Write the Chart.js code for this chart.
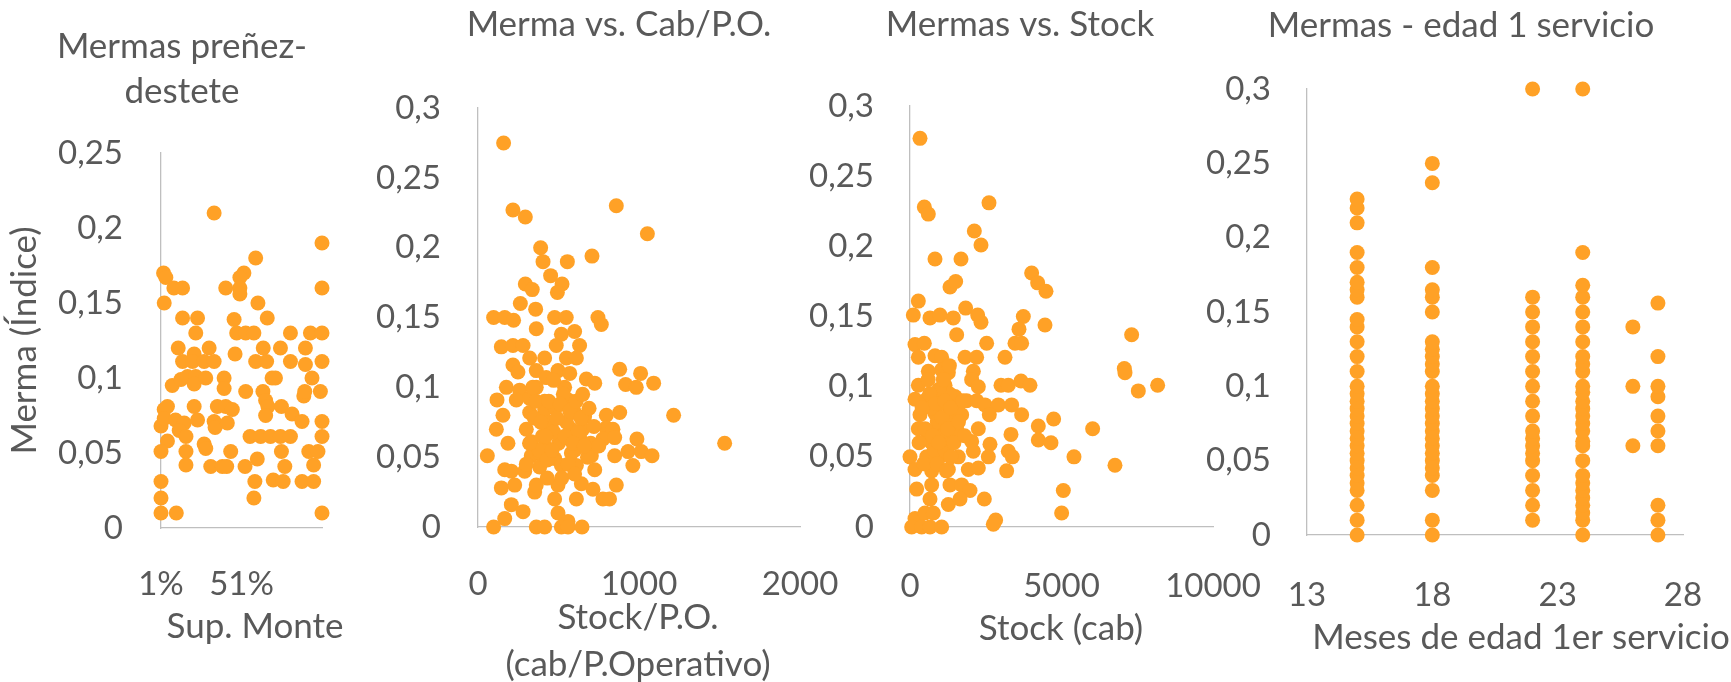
<!DOCTYPE html>
<html lang="es">
<head>
    <meta charset="UTF-8">
    <title>Mermas</title>
    <script src="https://cdn.jsdelivr.net/npm/chart.js"></script>
    <style>
        body { margin: 0; background: #ffffff; overflow: hidden; }
        .wrap { position: relative; width: 1731px; height: 682px; }
        .wrap canvas { position: absolute; top: 0; }
    </style>
</head>
<body>
<div class="wrap">
    <canvas id="monte"></canvas>
    <canvas id="cabPO"></canvas>
    <canvas id="stock"></canvas>
    <canvas id="edad"></canvas>
</div>

<script>
// --- Mermas preñez-destete vs. Sup. Monte ---
const monteX = [0.34,1.01,0.598,0.026,0.04,0.525,0.5,0.09,0.144,0.412,0.5,0.5,1.01,0.03,0.612,0.144,0.237,0.464,0.67,0.226,0.48,0.536,0.587,0.814,0.938,1.01,0.117,0.216,0.309,0.645,0.752,0.907,0.144,0.206,0.278,0.34,0.47,0.598,0.666,0.814,0.907,1.01,0.08,0.134,0.175,0.226,0.216,0.288,0.402,0.402,0.7,0.721,0.948,0.536,0.643,0.897,0.903,1.0,0.05,0.03,0.216,0.36,0.412,0.453,0.66,0.674,0.758,0.824,0.886,0.01,0.03,0.1,0.154,0.237,0.34,0.346,0.422,0.66,1.01,0.05,0.123,0.165,0.563,0.629,0.69,0.752,0.814,1.01,0.01,0.165,0.278,0.288,0.443,0.758,0.928,0.985,0.165,0.319,0.391,0.418,0.532,0.608,0.779,0.958,0.01,0.593,0.707,0.769,0.886,0.958,0.01,0.587,0.01,0.105,1.01];
const monteY = [0.21,0.19,0.18,0.17,0.167,0.17,0.167,0.16,0.16,0.16,0.16,0.156,0.16,0.15,0.15,0.14,0.14,0.139,0.14,0.13,0.13,0.13,0.13,0.13,0.13,0.13,0.12,0.116,0.12,0.12,0.12,0.12,0.111,0.111,0.111,0.111,0.116,0.111,0.111,0.111,0.109,0.111,0.095,0.099,0.101,0.101,0.096,0.1,0.1,0.093,0.1,0.1,0.1,0.091,0.091,0.088,0.091,0.091,0.081,0.079,0.081,0.081,0.081,0.079,0.085,0.081,0.081,0.076,0.071,0.068,0.073,0.072,0.07,0.072,0.071,0.067,0.07,0.075,0.071,0.058,0.065,0.061,0.061,0.061,0.061,0.061,0.061,0.061,0.051,0.051,0.056,0.053,0.051,0.051,0.051,0.051,0.042,0.041,0.041,0.041,0.041,0.046,0.041,0.042,0.031,0.031,0.032,0.031,0.031,0.031,0.02,0.02,0.01,0.01,0.01];
const monteTicks = [0.01, 0.51];

// --- Merma vs. Cab/P.O. ---
const cabPOX = [159,217,294,859,1052,389,404,555,708,451,294,337,522,493,263,358,97,166,221,476,548,745,766,362,518,600,486,631,145,217,280,321,414,549,611,217,248,362,497,880,1010,424,673,725,917,983,1091,176,259,362,538,118,238,321,414,559,155,321,414,600,662,797,880,1215,114,300,455,580,797,838,186,331,414,518,631,776,849,987,1532,58,331,383,476,580,704,849,932,1014,1081,166,207,290,383,518,611,725,962,145,228,352,362,497,642,714,859,476,611,776,817,207,280,166,497,559,97,362,414,518,559,646,400,450,500,550,600,650,380,430,480,530,620,700,560,470,350,680,320,360,390,420,440,460,490,510,540,570,590,610,640,660,690,720,750,430,520,600,300,340,470,570,650];
const cabPOY = [0.275,0.227,0.222,0.23,0.21,0.2,0.19,0.19,0.194,0.18,0.174,0.17,0.174,0.168,0.16,0.156,0.15,0.15,0.148,0.15,0.15,0.15,0.145,0.142,0.138,0.14,0.13,0.13,0.129,0.13,0.13,0.121,0.121,0.121,0.121,0.116,0.111,0.112,0.112,0.113,0.11,0.107,0.106,0.103,0.102,0.1,0.103,0.1,0.098,0.1,0.1,0.091,0.091,0.092,0.09,0.091,0.08,0.082,0.084,0.082,0.079,0.08,0.082,0.08,0.07,0.07,0.071,0.07,0.071,0.07,0.06,0.061,0.058,0.063,0.064,0.063,0.064,0.063,0.06,0.051,0.051,0.053,0.049,0.053,0.051,0.051,0.054,0.054,0.051,0.041,0.04,0.04,0.043,0.044,0.044,0.041,0.044,0.028,0.03,0.025,0.03,0.03,0.031,0.027,0.03,0.02,0.02,0.02,0.02,0.016,0.011,0.006,0.01,0.004,0,0,0,0,0,0,0.065,0.075,0.06,0.075,0.055,0.07,0.055,0.048,0.085,0.095,0.068,0.06,0.045,0.068,0.078,0.05,0.06,0.09,0.075,0.065,0.09,0.055,0.078,0.088,0.065,0.083,0.06,0.09,0.078,0.058,0.085,0.072,0.058,0.035,0.035,0.038,0.045,0.1,0.105,0.11,0.095];
const cabPOTicks = [0, 1000, 2000];

// --- Mermas vs. Stock ---
const stockX = [330,473,605,2607,2123,2343,825,1683,1320,1507,4015,4213,4488,275,110,660,990,1430,1837,2233,2343,3740,4455,1540,3597,7315,2530,3465,3685,165,473,275,825,1045,1815,2200,3135,605,1045,1265,2090,7073,7095,2035,275,1155,2255,3003,3245,3663,3960,8173,7535,165,550,1045,1485,1870,2200,2475,2915,3355,330,825,1320,1705,2618,3685,4235,4741,6028,275,935,1540,2255,3333,715,1265,2035,2640,4235,4653,0,550,1045,1595,2090,2585,3245,3377,5412,6765,165,715,1265,1925,2255,3190,220,715,1320,1705,1980,5060,660,1265,1650,2453,5005,165,495,770,2827,2750,55,385,660,1045,700,900,1100,1300,800,1000,1200,1400,600,1500,950,1150,400,500,650,750,850,950,1050,1150,1250,1350,1450,1600,1750,300,450,900,1200,1350,1800,1100,600,1300];
const stockY = [0.277,0.228,0.223,0.231,0.211,0.201,0.191,0.191,0.171,0.175,0.181,0.174,0.168,0.161,0.151,0.149,0.151,0.149,0.156,0.151,0.146,0.15,0.144,0.137,0.141,0.137,0.131,0.131,0.131,0.13,0.131,0.121,0.122,0.121,0.121,0.121,0.121,0.111,0.112,0.11,0.111,0.113,0.11,0.105,0.101,0.101,0.1,0.101,0.101,0.104,0.101,0.101,0.097,0.091,0.091,0.092,0.093,0.09,0.09,0.087,0.087,0.087,0.08,0.081,0.083,0.08,0.08,0.08,0.072,0.077,0.07,0.07,0.072,0.07,0.07,0.066,0.06,0.061,0.061,0.059,0.062,0.06,0.05,0.05,0.051,0.05,0.054,0.05,0.054,0.05,0.05,0.044,0.041,0.04,0.041,0.041,0.042,0.04,0.027,0.03,0.03,0.03,0.026,0.026,0.02,0.016,0.02,0.02,0.01,0.006,0.01,0.01,0.005,0.002,0,0,0,0,0.085,0.075,0.065,0.095,0.055,0.088,0.078,0.068,0.065,0.082,0.098,0.055,0.085,0.07,0.095,0.065,0.088,0.06,0.078,0.09,0.07,0.085,0.06,0.075,0.09,0.06,0.045,0.045,0.04,0.05,0.065,0.105,0.105,0.115];
const stockTicks = [0, 5000, 10000];

// --- Mermas - edad 1 servicio (one list per age in months) ---
const edades = [15, 18, 22, 24, 26, 27];
const merma15 = [0,0.01,0.02,0.03,0.035,0.04,0.045,0.05,0.055,0.06,0.065,0.07,0.075,0.08,0.085,0.09,0.095,0.1,0.11,0.12,0.13,0.14,0.145,0.16,0.165,0.17,0.18,0.19,0.21,0.22,0.226];
const merma18 = [0,0.01,0.03,0.04,0.045,0.05,0.055,0.06,0.065,0.07,0.075,0.08,0.085,0.09,0.095,0.1,0.11,0.115,0.12,0.125,0.13,0.15,0.16,0.165,0.18,0.237,0.25];
const merma22 = [0.01,0.02,0.03,0.04,0.05,0.055,0.06,0.065,0.07,0.08,0.09,0.1,0.11,0.12,0.13,0.14,0.15,0.16,0.3];
const merma24 = [0,0.01,0.015,0.02,0.025,0.03,0.035,0.04,0.05,0.06,0.063,0.07,0.075,0.08,0.085,0.09,0.096,0.1,0.11,0.115,0.12,0.13,0.14,0.15,0.16,0.168,0.19,0.3];
const merma26 = [0.06,0.1,0.14];
const merma27 = [0,0.01,0.02,0.06,0.07,0.08,0.093,0.1,0.12,0.156];
const edadTicks = [13, 18, 23, 28];

const ORANGE = '#FFA126';
const GREY = '#595959';
const AXIS = '#BFBFBF';
const FONT = 'Lato, "Open Sans", sans-serif';
const H = 682;
const TICK_SIZE = 33;

Chart.defaults.font.family = FONT;
Chart.defaults.color = GREY;

function pairs(xs, ys) {
    return xs.map((x, i) => ({ x: x, y: ys[i] }));
}

function comma(v) {
    return String(+v.toFixed(2)).replace('.', ',');
}

// x-axis captions are wider than the plot in the original, and the built-in
// scale title squeezes text to the axis width, so draw them here instead
const xCaption = {
    id: 'xCaption',
    afterDraw(chart, args, opts) {
        const ctx = chart.ctx;
        ctx.save();
        ctx.font = '35px ' + FONT;
        ctx.fillStyle = GREY;
        ctx.textAlign = 'center';
        ctx.textBaseline = 'middle';
        opts.lines.forEach((t, i) => ctx.fillText(t, opts.x, opts.y + i * opts.gap));
        ctx.restore();
    }
};

// p: canvas left/right (the title is centred on it), plot area left/right/bottom, paddings
function scatterPanel(id, p) {
    const cv = document.getElementById(id);
    cv.width = p.right - p.left;
    cv.height = H;
    cv.style.left = p.left + 'px';

    // tick padding also widens the side margins chart.js reserves, so keep it
    // small and push the labels down with the line height instead
    const xPad = 6;
    const xLineHeight = 2 * (p.xTickDrop - xPad) / TICK_SIZE;

    return new Chart(cv, {
        type: 'scatter',
        data: {
            datasets: [{
                data: p.data,
                backgroundColor: ORANGE,
                borderWidth: 0,
                pointRadius: 7.5,
                pointHoverRadius: 7.5,
                clip: false
            }]
        },
        plugins: [xCaption],
        options: {
            responsive: false,
            animation: false,
            events: [],
            layout: { padding: 0 },
            plugins: {
                legend: { display: false },
                tooltip: { enabled: false },
                title: {
                    display: true,
                    text: p.title,
                    color: GREY,
                    font: { size: 35, weight: 'normal', lineHeight: 1.29 },
                    padding: p.titlePad
                },
                xCaption: {
                    lines: p.xTitle,
                    x: p.xTitleAt[0] - p.left,
                    y: p.xTitleAt[1],
                    gap: 47
                }
            },
            scales: {
                x: {
                    type: 'linear',
                    min: p.xTicks[0],
                    max: p.xMax,
                    grid: { display: false },
                    border: { display: true, color: AXIS, width: 1.3 },
                    afterBuildTicks: s => { s.ticks = p.xTicks.map(v => ({ value: v })); },
                    afterFit: s => { s.height = H - p.plotBottom; },
                    ticks: {
                        autoSkip: false,
                        maxRotation: 0,
                        padding: xPad,
                        font: { size: TICK_SIZE, lineHeight: xLineHeight },
                        callback: p.xFmt
                    }
                },
                y: {
                    min: 0,
                    max: p.yMax,
                    grid: { display: false },
                    border: { display: true, color: AXIS, width: 1.3 },
                    afterFit: s => { s.width = p.plotLeft - p.left; },
                    ticks: {
                        stepSize: 0.05,
                        padding: p.yTickPad,
                        font: { size: TICK_SIZE },
                        callback: v => comma(v)
                    },
                    title: {
                        display: !!p.yTitle,
                        text: p.yTitle || '',
                        font: { size: 35, lineHeight: 1.2 },
                        padding: { top: 4, bottom: 0 }
                    }
                },
                // empty spacer on the right so the title stays centred on the canvas
                spacer: {
                    position: 'right',
                    grid: { display: false },
                    border: { display: false },
                    ticks: { display: false },
                    afterFit: s => { s.width = p.right - p.plotRight; }
                }
            }
        }
    });
}

scatterPanel('monte', {
    left: 0, right: 364, plotLeft: 161, plotRight: 322, plotBottom: 528,
    data: pairs(monteX, monteY),
    title: ['Mermas preñez-', 'destete'],
    titlePad: { top: 24.4, bottom: 38.3 },
    xTicks: monteTicks, xMax: 1.01,
    xFmt: v => Math.round(v * 100) + '%',
    xTickDrop: 48, xTitle: ['Sup. Monte'], xTitleAt: [255, 627],
    yMax: 0.25, yTickPad: 30, yTitle: 'Merma (Índice)'
});

scatterPanel('cabPO', {
    left: 368, right: 870, plotLeft: 478, plotRight: 800, plotBottom: 527,
    data: pairs(cabPOX, cabPOY),
    title: 'Merma vs. Cab/P.O.',
    titlePad: { top: 2.4, bottom: 60.5 },
    xTicks: cabPOTicks, xMax: 2000,
    xFmt: v => String(v),
    xTickDrop: 49, xTitle: ['Stock/P.O.', '(cab/P.Operativo)'], xTitleAt: [638, 618],
    yMax: 0.3, yTickPad: 29
});

scatterPanel('stock', {
    left: 770, right: 1270, plotLeft: 910, plotRight: 1213, plotBottom: 527,
    data: pairs(stockX, stockY),
    title: 'Mermas vs. Stock',
    titlePad: { top: 2.4, bottom: 58.5 },
    xTicks: stockTicks, xMax: 10000,
    xFmt: v => String(v),
    xTickDrop: 51, xTitle: ['Stock (cab)'], xTitleAt: [1061, 629],
    yMax: 0.3, yTickPad: 28
});

const edadSeries = [merma15, merma18, merma22, merma24, merma26, merma27];
const edadData = [];
edadSeries.forEach((list, i) => {
    list.forEach(v => edadData.push({ x: edades[i], y: v }));
});

scatterPanel('edad', {
    left: 1191, right: 1731, plotLeft: 1307, plotRight: 1683, plotBottom: 535,
    data: edadData,
    title: 'Mermas - edad 1 servicio',
    titlePad: { top: 3.4, bottom: 40.5 },
    xTicks: edadTicks, xMax: 28,
    xFmt: v => String(v),
    xTickDrop: 52, xTitle: ['Meses de edad 1er servicio'], xTitleAt: [1521, 638],
    yMax: 0.3, yTickPad: 28
});
</script>
</body>
</html>
